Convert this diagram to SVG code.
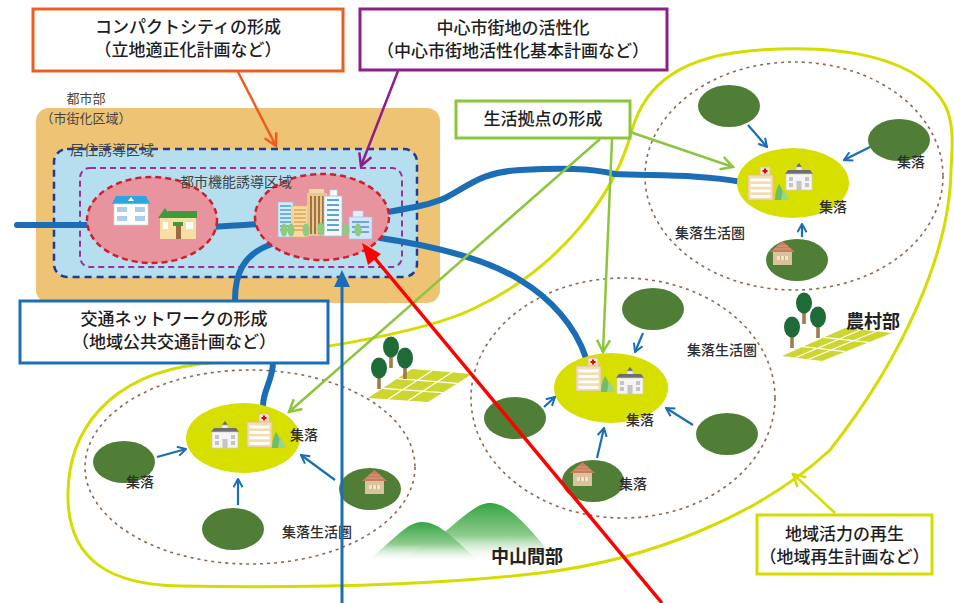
<svg xmlns="http://www.w3.org/2000/svg" width="954" height="603" viewBox="0 0 954 603">
  <style>
    text { font-family: "Noto Sans CJK JP", "Noto Sans", sans-serif; fill: #2a2a2a; }
    .box { fill: #ffffff; stroke-width: 3; }
    .boxtxt { font-size: 17px; text-anchor: middle; fill: #1e1e1e; font-weight: 500; }
    .lbl { font-size: 14px; text-anchor: middle; fill: #2e2e2e; font-weight: 500; }
    .lbl2 { font-size: 14px; fill: #444; }
    .lbl3 { font-size: 13px; text-anchor: middle; fill: #444; }
    .big { font-size: 18px; text-anchor: middle; font-weight: bold; fill: #222; }
    .road { fill: none; stroke: #1B6EB5; stroke-width: 6; stroke-linecap: round; }
    .sphere { fill: none; stroke: #8B6A4E; stroke-width: 1.6; stroke-dasharray: 3 4; }
    .hub { fill: #D7DF00; }
    .settle { fill: #507E36; }
    .feed { fill: none; stroke: #1B6EB5; stroke-width: 2.2; marker-end: url(#vBlue); }
    .field { fill: #CDD631; }
    .grid { stroke: #ffffff; stroke-width: 1.2; fill: none; }
  </style>
  <defs>
    <marker id="vBlue" viewBox="0 0 12 12" refX="10.5" refY="6" markerWidth="11" markerHeight="11" orient="auto" markerUnits="userSpaceOnUse">
      <path d="M1.5,1 L10.5,6 L1.5,11" fill="none" stroke="#1B6EB5" stroke-width="2.2"/>
    </marker>
    <marker id="vGreen" viewBox="0 0 16 16" refX="14" refY="8" markerWidth="16" markerHeight="16" orient="auto" markerUnits="userSpaceOnUse">
      <path d="M2,1.5 L14,8 L2,14.5" fill="none" stroke="#8CC63E" stroke-width="2.5"/>
    </marker>
    <marker id="vOrange" viewBox="0 0 16 16" refX="14" refY="8" markerWidth="16" markerHeight="16" orient="auto" markerUnits="userSpaceOnUse">
      <path d="M2,1.5 L14,8 L2,14.5" fill="none" stroke="#EA5E22" stroke-width="2.5"/>
    </marker>
    <marker id="vPurple" viewBox="0 0 16 16" refX="14" refY="8" markerWidth="16" markerHeight="16" orient="auto" markerUnits="userSpaceOnUse">
      <path d="M2,1.5 L14,8 L2,14.5" fill="none" stroke="#8E1E8C" stroke-width="2.5"/>
    </marker>
    <marker id="vYellow" viewBox="0 0 16 16" refX="14" refY="8" markerWidth="16" markerHeight="16" orient="auto" markerUnits="userSpaceOnUse">
      <path d="M2,1.5 L14,8 L2,14.5" fill="none" stroke="#D5DC00" stroke-width="2.5"/>
    </marker>
    <linearGradient id="mount" x1="0" y1="0" x2="0" y2="1">
      <stop offset="0" stop-color="#35A543"/>
      <stop offset="0.55" stop-color="#8FCB8E"/>
      <stop offset="1" stop-color="#ffffff" stop-opacity="0"/>
    </linearGradient>
    <!-- hospital with red cross -->
    <symbol id="hospital" overflow="visible">
      <rect x="12" y="0" width="10" height="8" fill="#F6E6C8" stroke="#DDBE8F" stroke-width="0.8"/>
      <path d="M17,1.5 V6.5 M14.5,4 H19.5" stroke="#E60012" stroke-width="2"/>
      <rect x="0" y="8" width="25" height="25" fill="#F3DDB3" stroke="#DDBE8F" stroke-width="0.8"/>
      <rect x="2.5" y="11.5" width="20" height="2.8" fill="#ffffff"/>
      <rect x="2.5" y="17" width="20" height="2.8" fill="#ffffff"/>
      <rect x="2.5" y="22.5" width="20" height="2.8" fill="#ffffff"/>
      <rect x="2.5" y="28" width="20" height="2.8" fill="#ffffff"/>
    </symbol>
    <!-- school with clock tower -->
    <symbol id="school" overflow="visible">
      <path d="M11,4 L14,0 L17,4 Z" fill="#6B6B6B"/>
      <rect x="11" y="4" width="6" height="6" fill="#EDEDED" stroke="#BDBDBD" stroke-width="0.6"/>
      <path d="M0,11 L3,7 L25,7 L28,11 Z" fill="#6E6E6E"/>
      <rect x="1" y="11" width="26" height="16" fill="#F4F4F4" stroke="#CFCFCF" stroke-width="0.7"/>
      <rect x="4" y="14" width="4" height="4" fill="#C4C4C4"/>
      <rect x="20" y="14" width="4" height="4" fill="#C4C4C4"/>
      <rect x="4" y="20" width="4" height="4" fill="#C4C4C4"/>
      <rect x="20" y="20" width="4" height="4" fill="#C4C4C4"/>
      <rect x="11.5" y="18" width="5" height="9" fill="#C4C4C4"/>
    </symbol>
    <!-- young tree beside hospital -->
    <symbol id="sapling" overflow="visible">
      <path d="M4,0 C8,5 9,11 9,16 L0,16 C0,11 1,5 4,0 Z" fill="#6DBE6B"/>
      <path d="M8,5 C11,9 13,13 14,16 L6,16 Z" fill="#9BD38F"/>
    </symbol>
    <!-- small wooden house -->
    <symbol id="hut" overflow="visible">
      <path d="M0,11 L12.5,0 L25,11 Z" fill="#C77E5E"/>
      <path d="M4,8 H21 M7,5 H18" stroke="#E2A58A" stroke-width="0.8"/>
      <rect x="3" y="11" width="19" height="13" fill="#D9C29C"/>
      <rect x="7" y="15" width="11" height="4" fill="#F2E4C8"/>
      <path d="M10.5,15 V19 M14.5,15 V19" stroke="#B99D74" stroke-width="0.8"/>
    </symbol>
    <!-- tree with trunk -->
    <symbol id="tree" overflow="visible">
      <rect x="-1.8" y="4" width="3.6" height="17" fill="#A47A4E"/>
      <ellipse cx="0" cy="0" rx="8" ry="10.5" fill="#1F6B38"/>
    </symbol>
  </defs>

  <rect width="954" height="603" fill="#ffffff"/>

  <!-- rural area outline -->
  <g id="rural-area">
    <path d="M475,308 C560,268 615,195 632,130 C645,85 680,55 760,50 C850,44 920,60 945,105 C955,125 952,150 951,170 C950,250 905,355 830,450 C760,515 650,560 540,573 C430,586 300,588 180,586 C110,585 70,560 68,500 C66,430 110,375 200,364 C300,352 420,335 475,308 Z" fill="none" stroke="#D5DC00" stroke-width="3"/>
  </g>

  <!-- urban area -->
  <g id="urban-area">
    <rect x="36" y="108" width="404" height="195" rx="13" fill="#EFC374"/>
    <text class="lbl3" x="86" y="103">都市部</text>
    <text class="lbl3" x="86" y="123">（市街化区域）</text>
  </g>
  <g id="residential-zone">
    <rect x="54" y="149" width="363" height="128" rx="13" fill="#B5DEEE" stroke="#26398A" stroke-width="2.5" stroke-dasharray="7 5"/>
  </g>
  <g id="urban-function-zone">
    <rect x="80" y="168" width="322" height="99" rx="10" fill="none" stroke="#A02E98" stroke-width="2" stroke-dasharray="6 4"/>
  </g>

  <!-- settlement life spheres -->
  <g id="sphere-north">
    <ellipse class="sphere" cx="794" cy="176" rx="149" ry="114"/>
  </g>
  <g id="sphere-middle">
    <ellipse class="sphere" cx="623" cy="398" rx="152" ry="120"/>
  </g>
  <g id="sphere-west">
    <ellipse class="sphere" cx="250" cy="467" rx="165" ry="97"/>
  </g>

  <!-- road network -->
  <g id="roads">
    <path class="road" d="M17,225 L95,225"/>
    <path class="road" d="M212,227 C232,226 245,225 262,224"/>
    <path class="road" d="M382,213 C410,208 430,205 445,198 C470,185 482,172 520,170 C560,168 590,168 615,174 C650,176 700,174 742,182"/>
    <path class="road" d="M380,238 C420,244 480,255 520,280 C550,298 575,325 586,358"/>
    <path class="road" d="M272,244 C243,254 235,274 235,300 C235,330 273,340 273,362 C273,380 263,390 263,406"/>
  </g>

  <!-- residential center -->
  <g id="node-residential">
    <ellipse cx="152" cy="220" rx="65" ry="43" fill="#E8949E" stroke="#CF1F2E" stroke-width="2.5" stroke-dasharray="6 4"/>
    <path d="M112,204 L116,196 L146,196 L150,204 Z" fill="#2AA6E0"/>
    <path d="M128,201 L131,197 L134,201 Z" fill="#ffffff"/>
    <rect x="114" y="204" width="34" height="21" fill="#ffffff" stroke="#D5D5D5" stroke-width="0.7"/>
    <rect x="117" y="207" width="10" height="5" fill="#A9CFEA"/>
    <rect x="135" y="207" width="10" height="5" fill="#A9CFEA"/>
    <rect x="117" y="216" width="10" height="5" fill="#A9CFEA"/>
    <rect x="135" y="216" width="10" height="5" fill="#A9CFEA"/>
    <rect x="160" y="217" width="36" height="22" fill="#F6DFA0"/>
    <path d="M158,218 L165,208 L172,218 Z" fill="#3E9B3A"/>
    <rect x="168" y="211" width="29" height="7" fill="#3E9B3A"/>
    <rect x="173" y="222" width="10" height="4" fill="#3E9B3A"/>
    <rect x="176" y="226" width="5" height="13" fill="#9C6B44"/>
    <rect x="163" y="222" width="5" height="7" fill="#ffffff"/>
    <rect x="186" y="222" width="7" height="7" fill="#ffffff"/>
  </g>

  <!-- city center -->
  <g id="node-city-center">
    <ellipse cx="322" cy="217" rx="67" ry="43" fill="#E8949E" stroke="#CF1F2E" stroke-width="2.5" stroke-dasharray="6 4"/>
    <rect x="278" y="202" width="15" height="35" fill="#D6EAF7" stroke="#8CC0E6" stroke-width="0.6"/>
    <path d="M280,206 H291 M280,210 H291 M280,214 H291 M280,218 H291 M280,222 H291 M280,226 H291 M280,230 H291" stroke="#4E9FD8" stroke-width="1.6"/>
    <rect x="292" y="206" width="16" height="31" fill="#F8DBA2" stroke="#E7B56A" stroke-width="0.6"/>
    <path d="M294,210 H306 M294,214 H306 M294,218 H306 M294,222 H306 M294,226 H306 M294,230 H306" stroke="#E3A24C" stroke-width="1.5"/>
    <rect x="309" y="189" width="15" height="5" fill="#F3D8A6"/>
    <rect x="307" y="193" width="20" height="43" fill="#EBC790"/>
    <path d="M311,196 V234 M315,196 V234 M319,196 V234 M323,196 V234" stroke="#9A6A3A" stroke-width="1.8"/>
    <rect x="330" y="190" width="7" height="6" fill="#ffffff" stroke="#B9D6EE" stroke-width="0.6"/>
    <rect x="324" y="196" width="18" height="40" fill="#F6FAFD" stroke="#9CC6E8" stroke-width="0.8"/>
    <path d="M327,200 H339 M327,205 H339 M327,210 H339 M327,215 H339 M327,220 H339 M327,225 H339 M327,230 H339" stroke="#5AA5DE" stroke-width="2"/>
    <rect x="353" y="211" width="10" height="6" fill="#E3EEF9" stroke="#B5D2EE" stroke-width="0.6"/>
    <rect x="349" y="217" width="23" height="22" fill="#D3E6F7" stroke="#9FC6EA" stroke-width="0.6"/>
    <path d="M352,222 H369 M352,227 H369 M352,232 H369" stroke="#6AA8E0" stroke-width="2"/>
    <g fill="#8DCB7E">
      <ellipse cx="284" cy="230" rx="3.5" ry="6.5"/>
      <ellipse cx="291" cy="230" rx="3.5" ry="6.5"/>
      <ellipse cx="306" cy="230" rx="3.5" ry="6.5"/>
      <ellipse cx="321" cy="229" rx="3.5" ry="6.5"/>
      <ellipse cx="346" cy="230" rx="3.5" ry="6.5"/>
      <ellipse cx="358" cy="230" rx="3.5" ry="6.5"/>
    </g>
  </g>

  <g id="zone-labels">
    <text class="lbl2" x="70" y="155">居住誘導区域</text>
    <text class="lbl2" x="180" y="187">都市機能誘導区域</text>
  </g>

  <!-- north settlement cluster -->
  <g id="node-hub-north">
    <ellipse class="hub" cx="793" cy="183" rx="56" ry="35"/>
    <use href="#hospital" x="748" y="167"/>
    <use href="#sapling" x="775" y="184"/>
    <use href="#school" x="785" y="163"/>
  </g>
  <g id="node-settle-n1"><ellipse class="settle" cx="729" cy="106" rx="31" ry="21"/></g>
  <g id="node-settle-n2"><ellipse class="settle" cx="899" cy="140" rx="31" ry="21"/></g>
  <g id="node-settle-n3"><ellipse class="settle" cx="797" cy="260" rx="31" ry="21"/><use href="#hut" x="770" y="241"/></g>

  <!-- middle settlement cluster -->
  <g id="node-hub-middle">
    <ellipse class="hub" cx="611" cy="388" rx="57" ry="35"/>
    <use href="#hospital" x="576" y="358"/>
    <use href="#sapling" x="601" y="376"/>
    <use href="#school" x="616" y="367"/>
  </g>
  <g id="node-settle-m1"><ellipse class="settle" cx="653" cy="309" rx="31" ry="21"/></g>
  <g id="node-settle-m2"><ellipse class="settle" cx="515" cy="418" rx="31" ry="21"/></g>
  <g id="node-settle-m3"><ellipse class="settle" cx="727" cy="434" rx="31" ry="21"/></g>
  <g id="node-settle-m4"><ellipse class="settle" cx="593" cy="481" rx="31" ry="21"/><use href="#hut" x="570" y="462"/></g>

  <!-- west settlement cluster -->
  <g id="node-hub-west">
    <ellipse class="hub" cx="243" cy="438" rx="57" ry="35"/>
    <use href="#school" x="211" y="421"/>
    <use href="#hospital" x="247" y="414"/>
    <use href="#sapling" x="272" y="432"/>
  </g>
  <g id="node-settle-w1"><ellipse class="settle" cx="124" cy="462" rx="31" ry="21"/></g>
  <g id="node-settle-w2"><ellipse class="settle" cx="233" cy="529" rx="31" ry="21"/></g>
  <g id="node-settle-w3"><ellipse class="settle" cx="370" cy="489" rx="31" ry="21"/><use href="#hut" x="362" y="470"/></g>

  <!-- farmland and trees -->
  <g id="farm-west">
    <path class="field" d="M368,398 L428,402 L472,374 L412,369 Z"/>
    <path class="grid" d="M388,399.3 L432,370.7 M408,400.7 L452,372.3 M382.7,388.3 L442.7,392.7 M397.3,378.7 L457.3,383.3"/>
    <use href="#tree" x="391" y="347"/>
    <use href="#tree" x="405" y="358"/>
    <use href="#tree" x="379" y="368"/>
  </g>
  <g id="farm-east">
    <path class="field" d="M782,356 L822,361 L892,333 L845,328 Z"/>
    <path class="grid" d="M795.3,357.7 L860.7,329.7 M808.7,359.3 L876.3,331.3 M803,346.7 L845.3,351.7 M824,337.3 L868.7,342.3"/>
    <use href="#tree" x="804" y="303"/>
    <use href="#tree" x="818" y="317"/>
    <use href="#tree" x="792" y="327"/>
  </g>
  <g id="mountains">
    <path d="M400,562 L447,530 C465,515 478,503 490,503 C505,503 522,517 557,562 Z" fill="url(#mount)"/>
    <path d="M365,562 C390,545 405,522 422,522 C440,522 455,540 480,562 Z" fill="url(#mount)"/>
  </g>

  <!-- place labels -->
  <g id="place-labels">
    <text class="lbl" x="911" y="167">集落</text>
    <text class="lbl" x="833" y="212">集落</text>
    <text class="lbl" x="710" y="238">集落生活圏</text>
    <text class="lbl" x="640" y="425">集落</text>
    <text class="lbl" x="633" y="489">集落</text>
    <text class="lbl" x="722" y="355">集落生活圏</text>
    <text class="lbl" x="304" y="440">集落</text>
    <text class="lbl" x="140" y="487">集落</text>
    <text class="lbl" x="317" y="537">集落生活圏</text>
    <text class="big" x="873" y="328">農村部</text>
    <text class="big" x="527" y="563">中山間部</text>
  </g>

  <!-- connectors -->
  <g id="connectors">
    <!-- settlements feeding their hubs -->
    <path class="feed" d="M748,125 L767,147"/>
    <path class="feed" d="M870,147 L844,160"/>
    <path class="feed" d="M802,237 L802,224"/>
    <path class="feed" d="M643,333 L635,352"/>
    <path class="feed" d="M544,407 L555,397"/>
    <path class="feed" d="M693,425 L666,408"/>
    <path class="feed" d="M597,458 L604,428"/>
    <path class="feed" d="M157,457 L186,449"/>
    <path class="feed" d="M238,505 L238,479"/>
    <path class="feed" d="M335,480 L301,455"/>
    <!-- policy callouts -->
    <path d="M238,72 L276,146" fill="none" stroke="#EA5E22" stroke-width="2.5" marker-end="url(#vOrange)"/>
    <path d="M398,71 L361,166" fill="none" stroke="#8E1E8C" stroke-width="2.5" marker-end="url(#vPurple)"/>
    <path d="M630,132 L733,167" fill="none" stroke="#8CC63E" stroke-width="2.5" marker-end="url(#vGreen)"/>
    <path d="M600,139 L289,412" fill="none" stroke="#8CC63E" stroke-width="2.5" marker-end="url(#vGreen)"/>
    <path d="M612,139 L603,352" fill="none" stroke="#8CC63E" stroke-width="2.5" marker-end="url(#vGreen)"/>
    <path d="M835,513 L793,474" fill="none" stroke="#D5DC00" stroke-width="2.5" marker-end="url(#vYellow)"/>
    <!-- inflow arrows to the city center -->
    <path d="M342,603 L342,284" fill="none" stroke="#1B6EB5" stroke-width="3"/>
    <path d="M342,270 L350,287 L334,287 Z" fill="#1B6EB5"/>
    <path d="M662,603 L373,256" fill="none" stroke="#FF0000" stroke-width="3.5"/>
    <path d="M362,243 L381,254 L368,265 Z" fill="#FF0000"/>
  </g>

  <!-- policy boxes -->
  <g id="node-compact-city">
    <rect class="box" x="33" y="9" width="310" height="62" stroke="#EA5E22"/>
    <text class="boxtxt" x="188" y="33">コンパクトシティの形成</text>
    <text class="boxtxt" x="188" y="56">（立地適正化計画など）</text>
  </g>
  <g id="node-downtown">
    <rect class="box" x="360" y="9" width="307" height="61" stroke="#8E1E8C"/>
    <text class="boxtxt" x="513" y="34">中心市街地の活性化</text>
    <text class="boxtxt" x="513" y="57">（中心市街地活性化基本計画など）</text>
  </g>
  <g id="node-life-base">
    <rect class="box" x="456" y="101" width="174" height="37" stroke="#8CC63E"/>
    <text class="boxtxt" x="543" y="125">生活拠点の形成</text>
  </g>
  <g id="node-transport">
    <rect class="box" x="20" y="301" width="308" height="62" stroke="#1B6EB5"/>
    <text class="boxtxt" x="174" y="325">交通ネットワークの形成</text>
    <text class="boxtxt" x="174" y="348">（地域公共交通計画など）</text>
  </g>
  <g id="node-revival">
    <rect class="box" x="757" y="515" width="175" height="59" stroke="#D5DC00"/>
    <text class="boxtxt" x="844.5" y="540">地域活力の再生</text>
    <text class="boxtxt" x="844.5" y="563">（地域再生計画など）</text>
  </g>
</svg>
